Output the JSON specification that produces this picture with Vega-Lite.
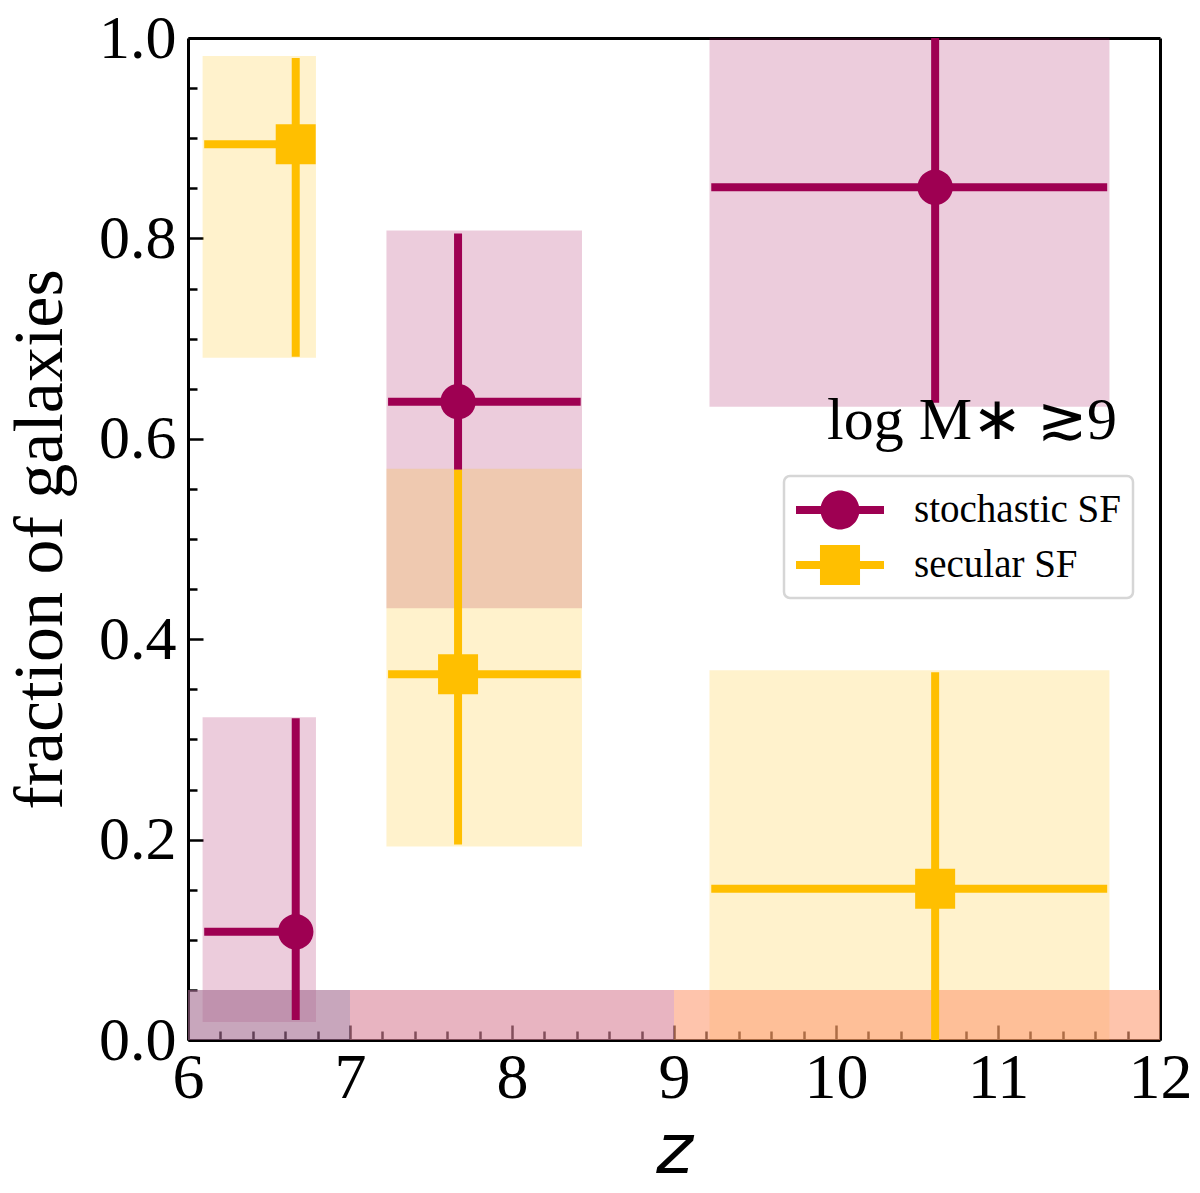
{
  "$schema": "https://vega.github.io/schema/vega-lite/v6.json",
  "autosize": "none",
  "width": 972,
  "height": 1002,
  "padding": {"left": 188, "top": 38, "right": 40, "bottom": 153},
  "background": "white",
  "config": {
    "font": "Liberation Serif",
    "view": {"stroke": null},
    "axis": {
      "zindex": 1,
      "grid": false,
      "domainColor": "black",
      "domainWidth": 3,
      "tickColor": "black",
      "tickWidth": 2.5,
      "labelColor": "black",
      "labelFont": "Liberation Serif",
      "labelFlush": false,
      "labelOverlap": false,
      "titleColor": "black",
      "titleFontWeight": "normal"
    },
    "legend": {
      "symbolOpacity": 1,
      "strokeColor": "#d6d6d6",
      "strokeWidth": 2.5,
      "cornerRadius": 6,
      "fillColor": "white",
      "labelLimit": 0
    }
  },
  "datasets": {
    "pts": [
      {"series": "stochastic SF", "z": 6.665, "zlo": 6.1, "zhi": 6.75, "f": 0.108, "flo": 0.02, "fhi": 0.321, "bzlo": 6.09, "bzhi": 6.79, "bflo": 0.018, "bfhi": 0.322},
      {"series": "secular SF", "z": 6.665, "zlo": 6.1, "zhi": 6.75, "f": 0.894, "flo": 0.682, "fhi": 0.98, "bzlo": 6.09, "bzhi": 6.79, "bflo": 0.681, "bfhi": 0.982},
      {"series": "stochastic SF", "z": 7.667, "zlo": 7.235, "zhi": 8.424, "f": 0.637, "flo": 0.569, "fhi": 0.805, "bzlo": 7.225, "bzhi": 8.432, "bflo": 0.431, "bfhi": 0.808},
      {"series": "secular SF", "z": 7.667, "zlo": 7.235, "zhi": 8.424, "f": 0.365, "flo": 0.195, "fhi": 0.569, "bzlo": 7.225, "bzhi": 8.432, "bflo": 0.193, "bfhi": 0.57},
      {"series": "stochastic SF", "z": 10.612, "zlo": 9.23, "zhi": 11.674, "f": 0.851, "flo": 0.636, "fhi": 1.0, "bzlo": 9.219, "bzhi": 11.688, "bflo": 0.632, "bfhi": 1.0},
      {"series": "secular SF", "z": 10.612, "zlo": 9.23, "zhi": 11.674, "f": 0.151, "flo": 0.0, "fhi": 0.367, "bzlo": 9.219, "bzhi": 11.688, "bflo": 0.0, "bfhi": 0.369}
    ],
    "bands": [
      {"zone": "a", "z0": 6, "z1": 7, "f0": 0, "f1": 0.05},
      {"zone": "b", "z0": 7, "z1": 9, "f0": 0, "f1": 0.05},
      {"zone": "c", "z0": 9, "z1": 12, "f0": 0, "f1": 0.05}
    ],
    "note": [
      {"label": "log M∗ ≳9", "z": 10.84, "f": 0.6}
    ]
  },
  "resolve": {"axis": {"x": "independent", "y": "independent"}},
  "layer": [
    {
      "data": {"name": "pts"},
      "transform": [{"filter": "datum.series == 'stochastic SF'"}],
      "mark": {"type": "rect", "color": "#9e0052", "opacity": 0.2},
      "encoding": {
        "x": {"field": "bzlo", "type": "quantitative", "scale": {"domain": [6, 12], "nice": false, "zero": false},
          "axis": {"orient": "bottom", "values": [6, 7, 8, 9, 10, 11, 12], "format": "d", "tickSize": -15, "labelPadding": 21, "labelFontSize": 64,
            "title": "z", "titleFont": "DejaVu Sans", "titleFontStyle": "italic", "titleFontSize": 70, "titlePadding": 7}},
        "x2": {"field": "bzhi"},
        "y": {"field": "bflo", "type": "quantitative", "scale": {"domain": [0, 1], "nice": false, "zero": false},
          "axis": {"orient": "left", "values": [0, 0.2, 0.4, 0.6, 0.8, 1.0], "format": ".1f", "tickSize": -15, "labelPadding": 27, "labelFontSize": 62,
            "title": "fraction of galaxies", "titleFont": "Liberation Serif", "titleFontSize": 70, "titlePadding": 22}},
        "y2": {"field": "bfhi"}
      }
    },
    {
      "data": {"name": "pts"},
      "transform": [{"filter": "datum.series == 'secular SF'"}],
      "mark": {"type": "rect", "color": "#ffbf00", "opacity": 0.2},
      "encoding": {
        "x": {"field": "bzlo", "type": "quantitative",
          "axis": {"orient": "bottom", "values": [6.2, 6.4, 6.6, 6.8, 7.2, 7.4, 7.6, 7.8, 8.2, 8.4, 8.6, 8.8, 9.2, 9.4, 9.6, 9.8, 10.2, 10.4, 10.6, 10.8, 11.2, 11.4, 11.6, 11.8],
            "tickSize": -9, "labels": false, "domain": false, "title": null}},
        "x2": {"field": "bzhi"},
        "y": {"field": "bflo", "type": "quantitative",
          "axis": {"orient": "left", "values": [0.05, 0.1, 0.15, 0.25, 0.3, 0.35, 0.45, 0.5, 0.55, 0.65, 0.7, 0.75, 0.85, 0.9, 0.95],
            "tickSize": -9, "labels": false, "domain": false, "title": null}},
        "y2": {"field": "bfhi"}
      }
    },
    {
      "data": {"name": "bands"},
      "mark": {"type": "rect", "opacity": 0.6},
      "encoding": {
        "x": {"field": "z0", "type": "quantitative",
          "axis": {"orient": "top", "ticks": false, "labels": false, "title": null}},
        "x2": {"field": "z1"},
        "y": {"field": "f0", "type": "quantitative",
          "axis": {"orient": "right", "ticks": false, "labels": false, "title": null}},
        "y2": {"field": "f1"},
        "fill": {"field": "zone", "type": "nominal", "legend": null,
          "scale": {"domain": ["a", "b", "c"], "range": ["#a36b8f", "#d98298", "#fd9d75"]}}
      }
    },
    {
      "data": {"name": "pts"},
      "mark": {"type": "point", "filled": true, "opacity": 1, "size": 0, "strokeWidth": 0},
      "encoding": {
        "x": {"field": "z", "type": "quantitative", "axis": null},
        "y": {"field": "f", "type": "quantitative", "axis": null},
        "color": {"field": "series", "type": "nominal",
          "scale": {"domain": ["stochastic SF", "secular SF"], "range": ["#9e0052", "#ffbf00"]},
          "legend": {"title": null, "orient": "none", "legendX": 596, "legendY": 438, "padding": 12, "rowPadding": 13,
            "symbolSize": 1936, "symbolOffset": 22, "symbolStrokeWidth": 0, "symbolOpacity": 1, "labelOffset": 52,
            "labelFont": "Liberation Serif", "labelFontSize": 39, "labelColor": "black", "labelLimit": 0}},
        "shape": {"field": "series", "type": "nominal",
          "scale": {"domain": ["stochastic SF", "secular SF"],
            "range": ["M-2,-0.18H2V0.18H-2Z M-0.886,0A0.886,0.886 0 1 1 0.886,0A0.886,0.886 0 1 1 -0.886,0Z",
                      "M-2,-0.18H2V0.18H-2Z M-0.91,-0.91H0.91V0.91H-0.91Z"]}}
      }
    },
    {
      "data": {"name": "pts"},
      "mark": {"type": "rule", "strokeWidth": 8},
      "encoding": {
        "x": {"field": "zlo", "type": "quantitative", "axis": null},
        "x2": {"field": "zhi"},
        "y": {"field": "f", "type": "quantitative", "axis": null},
        "stroke": {"field": "series", "type": "nominal", "legend": null,
          "scale": {"domain": ["stochastic SF", "secular SF"], "range": ["#9e0052", "#ffbf00"]}}
      }
    },
    {
      "data": {"name": "pts"},
      "mark": {"type": "rule", "strokeWidth": 8},
      "encoding": {
        "x": {"field": "z", "type": "quantitative", "axis": null},
        "y": {"field": "flo", "type": "quantitative", "axis": null},
        "y2": {"field": "fhi"},
        "stroke": {"field": "series", "type": "nominal", "legend": null}
      }
    },
    {
      "data": {"name": "pts"},
      "transform": [{"filter": "datum.series == 'stochastic SF'"}],
      "mark": {"type": "point", "shape": "circle", "filled": true, "opacity": 1, "size": 1257, "color": "#9e0052"},
      "encoding": {
        "x": {"field": "z", "type": "quantitative", "axis": null},
        "y": {"field": "f", "type": "quantitative", "axis": null}
      }
    },
    {
      "data": {"name": "pts"},
      "transform": [{"filter": "datum.series == 'secular SF'"}],
      "mark": {"type": "point", "shape": "square", "filled": true, "opacity": 1, "size": 1600, "color": "#ffbf00"},
      "encoding": {
        "x": {"field": "z", "type": "quantitative", "axis": null},
        "y": {"field": "f", "type": "quantitative", "axis": null}
      }
    },
    {
      "data": {"name": "note"},
      "mark": {"type": "text", "font": "Liberation Serif", "fontSize": 60, "align": "center", "baseline": "alphabetic", "color": "black"},
      "encoding": {
        "x": {"field": "z", "type": "quantitative", "axis": null},
        "y": {"field": "f", "type": "quantitative", "axis": null},
        "text": {"field": "label"}
      }
    }
  ]
}
